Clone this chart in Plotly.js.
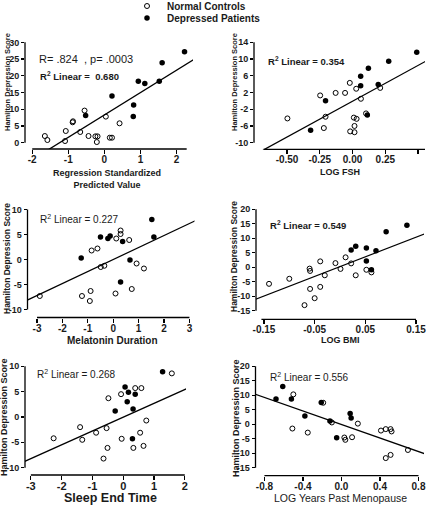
<!DOCTYPE html>
<html><head><meta charset="utf-8">
<script src="https://cdn.plot.ly/plotly-3.0.1.min.js"></script>
<style>html,body{margin:0;padding:0;background:#fff;overflow:hidden}#c{width:427px;height:521px;margin-top:-16px}</style>
</head><body><div id="c"></div>
<script>
// ---------- DATA ----------
// Panel 1: Regression Standardized Predicted Value
const p1NormX = [-1.65,-1.58,-1.07,-1.09,-0.88,-0.87,-0.55,-0.67,-0.44,-0.25,-0.19,-0.21,0.04,0.15,0.21,0.42];
const p1NormY = [2.0,0.8,3.5,0.5,6.1,6.4,9.6,3.2,2.0,1.9,1.9,0.2,7.8,1.5,1.5,5.8];
const p1DepX = [-0.52,0.21,0.81,0.80,0.94,1.12,1.52,1.60,2.22];
const p1DepY = [8.1,14.0,11.3,7.8,18.4,17.7,18.4,23.9,27.2];
const p1FitX = [-1.6,2.5];
const p1FitY = [-2.4,25.0];
// Panel 2: LOG FSH
const p2NormX = [-0.497,-0.247,-0.206,-0.219,-0.129,-0.057,-0.021,0.028,0.064,0.010,0.031,0.015,-0.018,0.015,0.103,0.211];
const p2NormY = [-4.2,1.3,-3.8,-6.5,1.9,1.9,4.3,2.9,0.5,-4.0,-4.3,-6.0,-7.3,-7.5,-3.0,3.1];
const p2DepX = [-0.320,-0.206,0.062,0.062,0.121,0.113,0.196,0.276,0.49];
const p2DepY = [-7.0,0.0,3.6,5.9,7.8,-3.4,3.9,9.5,11.6];
const p2FitX = [-0.76,0.56];
const p2FitY = [-13.1,9.5];
// Panel 3: Melatonin Duration
const p3NormX = [-2.89,-1.23,-0.89,-0.92,-0.85,-0.62,-0.49,-0.35,0.12,0.29,0.29,0.63,0.09,0.73,0.92,1.21];
const p3NormY = [-7.3,-7.3,-6.3,-8.3,1.8,2.2,-1.5,-1.25,4.2,5.8,5.1,3.9,-6.8,-5.9,-0.8,-1.8];
const p3DepX = [-1.26,-0.50,-0.21,-0.12,0.37,0.66,0.29,1.52,1.60];
const p3DepY = [0.3,4.5,4.2,4.7,3.6,-0.1,-4.5,8.0,4.5];
const p3FitX = [-3.45,3.25];
const p3FitY = [-8.3,7.8];
// Panel 4: LOG BMI
const p4NormX = [-0.140,-0.100,-0.060,-0.059,-0.059,-0.070,-0.050,-0.039,-0.039,-0.030,-0.009,0.001,0.011,0.022,0.031,0.052,0.062];
const p4NormY = [-5.75,-4.0,-0.5,-1.3,-7.5,-13.1,-10.7,-6.8,2.0,-2.8,1.4,-0.6,3.4,1.3,-2.8,-0.9,-1.8];
const p4DepX = [0.022,0.031,0.052,0.052,0.062,0.071,0.091,0.132];
const p4DepY = [5.9,7.2,6.6,2.1,-0.9,5.7,12.2,14.5];
const p4FitX = [-0.17,0.17];
const p4FitY = [-11.3,11.7];
// Panel 5: Sleep End Time
const p5NormX = [-2.26,-1.40,-1.33,-0.88,-0.54,-0.51,-0.64,-0.48,-0.07,-0.05,0.39,0.59,0.33,0.55,0.66,0.75,1.58];
const p5NormY = [-4.2,-2.0,-4.5,-3.1,-2.2,-6.1,-8.2,3.7,4.5,-4.3,5.7,5.7,-6.1,-3.1,-5.7,-0.7,8.6];
const p5DepX = [-0.26,0.06,0.17,0.13,0.39,0.32,0.30,1.28];
const p5DepY = [1.2,5.9,4.9,3.0,4.5,1.6,-4.3,8.9];
const p5FitX = [-3.25,2.1];
const p5FitY = [-8.9,5.7];
// Panel 6: LOG Years Past Menopause
const p6NormX = [-0.50,-0.51,-0.35,-0.19,-0.10,0.03,0.04,0.11,0.17,0.41,0.46,0.51,0.52,0.46,0.51,0.69];
const p6NormY = [10.3,-1.5,-2.9,7.4,0.6,-4.6,-5.4,-4.5,0.2,-2.2,-1.7,-1.7,-2.5,-11.7,-10.6,-8.9];
const p6DepX = [-0.68,-0.61,-0.52,-0.38,-0.21,-0.12,-0.05,0.09,0.10];
const p6DepY = [8.7,13.0,8.7,2.8,7.5,1.1,-4.7,3.7,2.1];
const p6FitX = [-0.95,0.9];
const p6FitY = [11.0,-10.6];

// Ticks
const t1x=[-2,-1,0,1,2], t1xl=['-2','-1','0','1','2'];
const t1y=[0,5,10,15,20,25,30], t1yl=['0','5','10','15','20','25','30'];
const t2x=[-0.5,-0.25,0,0.25,0.5], t2xl=['-0.50','-0.25','0.00','0.25','0.50'];
const t2y=[-10,-6,-2,2,6,10,14], t2yl=['-10','-6','-2','2','6','10','14'];
const t3x=[-3,-2,-1,0,1,2,3], t3xl=['-3','-2','-1','0','1','2','3'];
const t3y=[-10,-5,0,5,10], t3yl=['-10','-5','0','5','10'];
const t4x=[-0.15,-0.05,0.05,0.15], t4xl=['-0.15','-0.05','0.05','0.15'];
const t4y=[-15,-10,-5,0,5,10,15,20], t4yl=['-15','-10','-5','0','5','10','15','20'];
const t5x=[-3,-2,-1,0,1,2], t5xl=['-3','-2','-1','0','1','2'];
const t5y=[-10,-5,0,5,10], t5yl=['-10','-5','0','5','10'];
const t6x=[-0.8,-0.4,0,0.4,0.8], t6xl=['-0.8','-0.4','0.0','0.4','0.8'];
const t6y=[-15,-10,-5,0,5,10,15,20], t6yl=['-15','-10','-5','0','5','10','15','20'];

const xTitles = ['Regression Standardized<br>Predicted Value','LOG FSH','Melatonin Duration','LOG BMI','Sleep End Time','LOG Years Past Menopause'];
const yTitle = 'Hamilton Depression Score';
const r2Text = ['R<sup>2</sup> Linear =  0.680','R<sup>2</sup> Linear = 0.354','R<sup>2</sup> Linear = 0.227','R<sup>2</sup> Linear = 0.549','R<sup>2</sup> Linear = 0.268','R<sup>2</sup> Linear = 0.556'];
const rpText = 'R= .824  , p= .0003';
const legendNames = ['Normal Controls','Depressed Patients'];

// ---------- LAYOUT ----------
const W=427, OFF=16, H=505+OFF;
const FONT='Liberation Sans, Arial, sans-serif';
const NARROW='Liberation Sans Narrow, Arial Narrow, Liberation Sans, Arial, sans-serif';
const TXT='#1a1a1a';
const px=v=>v/W, py=v=>1-(v+OFF)/H;

const panels = [
 {nx:p1NormX,ny:p1NormY,dx:p1DepX,dy:p1DepY,fx:p1FitX,fy:p1FitY,tx:t1x,txl:t1xl,ty:t1y,tyl:t1yl,
  L:25,R:193,T:38,B:149,xr:[-2.2,2.455],yr:[-1.88,31.3],xa:[-2,2.28],ya:[0,30],
  xt:{x:107,y:178.5,s:9,b:true},yt:{x:7,y:82,s:7.5},r2:{x:38,y:76,s:9.5,b:true}},
 {nx:p2NormX,ny:p2NormY,dx:p2DepX,dy:p2DepY,fx:p2FitX,fy:p2FitY,tx:t2x,txl:t2xl,ty:t2y,tyl:t2yl,
  L:254,R:425,T:38,B:149.3,xr:[-0.752,0.553],yr:[-11.58,15.03],xa:[-0.68,0.553],ya:[-10,14],
  xt:{x:340,y:172.5,s:9,b:true},yt:{x:234,y:82,s:7.5},r2:{x:266,y:61,s:9.5,b:true}},
 {nx:p3NormX,ny:p3NormY,dx:p3DepX,dy:p3DepY,fx:p3FitX,fy:p3FitY,tx:t3x,txl:t3xl,ty:t3y,tyl:t3yl,
  L:27.5,R:194.5,T:206,B:317.5,xr:[-3.374,3.2],yr:[-11.6,10.7],xa:[-3,3],ya:[-10,10],
  xt:{x:112,y:340,s:10,b:true},yt:{x:7,y:259,s:8.5},r2:{x:38,y:219,s:10,b:false}},
 {nx:p4NormX,ny:p4NormY,dx:p4DepX,dy:p4DepY,fx:p4FitX,fy:p4FitY,tx:t4x,txl:t4xl,ty:t4y,tyl:t4yl,
  L:256,R:424,T:206,B:319.3,xr:[-0.1657,0.1657],yr:[-17.98,21.1],xa:[-0.155,0.15],ya:[-15,20],
  xt:{x:340,y:340,s:9,b:true},yt:{x:234,y:257,s:8.5},r2:{x:268,y:225,s:9.5,b:true}},
 {nx:p5NormX,ny:p5NormY,dx:p5DepX,dy:p5DepY,fx:p5FitX,fy:p5FitY,tx:t5x,txl:t5xl,ty:t5y,tyl:t5yl,
  L:25,R:186,T:364,B:475,xr:[-3.19,2.04],yr:[-11.44,10.45],xa:[-3,2],ya:[-10,10],
  xt:{x:110,y:497.5,s:12.5,b:true},yt:{x:4,y:417,s:9},r2:{x:35,y:374,s:10,b:false}},
 {nx:p6NormX,ny:p6NormY,dx:p6DepX,dy:p6DepY,fx:p6FitX,fy:p6FitY,tx:t6x,txl:t6xl,ty:t6y,tyl:t6yl,
  L:255.5,R:424,T:364,B:475.7,xr:[-0.893,0.857],yr:[-17.78,20.78],xa:[-0.8,0.8],ya:[-15,20],
  xt:{x:340,y:498,s:10.5,b:false},yt:{x:236,y:418,s:9},r2:{x:268,y:377,s:10,b:false}}
];

const data=[], shapes=[], annotations=[];
const legFont={family:FONT,size:10,color:TXT,weight:'bold'};
const layout={width:W,height:H,margin:{l:0,r:0,t:0,b:0},paper_bgcolor:'#fff',plot_bgcolor:'rgba(0,0,0,0)',
  font:{family:FONT,color:TXT},annotations,shapes,
  legend:{x:px(127),xanchor:'left',y:py(6),yanchor:'middle',bgcolor:'rgba(0,0,0,0)',font:legFont},
  legend2:{x:px(127),xanchor:'left',y:py(18),yanchor:'middle',bgcolor:'rgba(0,0,0,0)',font:legFont}
};

panels.forEach((p,i)=>{
  const n=i+1, xs=n===1?'':String(n);
  const xa='x'+xs, ya='y'+xs;
  layout['xaxis'+xs]={domain:[px(p.L),px(p.R)],range:p.xr,anchor:ya,showgrid:false,zeroline:false,showline:false,
    ticks:'outside',ticklen:4,tickwidth:1.2,tickcolor:'#000',tickmode:'array',tickvals:p.tx,ticktext:p.txl,
    ticklabelstandoff:-3,
    tickfont:{family:FONT,size:i===4?11:10,color:TXT,weight:'bold'},fixedrange:true};
  layout['yaxis'+xs]={domain:[py(p.B),py(p.T)],range:p.yr,anchor:xa,showgrid:false,zeroline:false,showline:false,
    ticks:'outside',ticklen:3,tickwidth:1.2,tickcolor:'#000',tickmode:'array',tickvals:p.ty,ticktext:p.tyl,
    tickfont:{family:FONT,size:9,color:TXT,weight:'bold'},fixedrange:true};
  shapes.push({type:'line',xref:xa,yref:ya+' domain',x0:p.xa[0],x1:p.xa[1],y0:0,y1:0,line:{color:'#000',width:1.3}});
  shapes.push({type:'line',xref:xa+' domain',yref:ya,x0:0,x1:0,y0:p.ya[0],y1:p.ya[1],line:{color:'#000',width:1.3}});
  data.push({type:'scatter',mode:'lines',x:p.fx,y:p.fy,xaxis:xa,yaxis:ya,line:{color:'#000',width:1.3},showlegend:false,hoverinfo:'skip'});
  data.push({type:'scatter',mode:'markers',x:p.nx,y:p.ny,xaxis:xa,yaxis:ya,name:legendNames[0],legend:'legend',
    showlegend:i===0,marker:{symbol:'circle-open',size:5,color:'#000',line:{width:1,color:'#000'}}});
  data.push({type:'scatter',mode:'markers',x:p.dx,y:p.dy,xaxis:xa,yaxis:ya,name:legendNames[1],legend:'legend2',
    showlegend:i===0,marker:{symbol:'circle',size:5.5,color:'#000'}});
  annotations.push({xref:'paper',yref:'paper',x:px(p.xt.x),y:py(p.xt.y),xanchor:'center',yanchor:'middle',showarrow:false,
    text:xTitles[i],font:{family:FONT,size:p.xt.s,color:TXT,weight:p.xt.b?'bold':'normal'}});
  annotations.push({xref:'paper',yref:'paper',x:px(p.yt.x),y:py(p.yt.y),xanchor:'center',yanchor:'middle',showarrow:false,
    textangle:-90,text:yTitle,font:{family:NARROW,size:p.yt.s,color:TXT,weight:'bold'}});
  annotations.push({xref:'paper',yref:'paper',x:px(p.r2.x),y:py(p.r2.y),xanchor:'left',yanchor:'middle',showarrow:false,
    text:r2Text[i],font:{family:FONT,size:p.r2.s,color:TXT,weight:p.r2.b?'bold':'normal'}});
});
annotations.push({xref:'paper',yref:'paper',x:px(37),y:py(59),xanchor:'left',yanchor:'middle',showarrow:false,
  text:rpText,font:{family:FONT,size:11,color:TXT}});

Plotly.newPlot('c',data,layout,{displayModeBar:false,staticPlot:true});
</script></body></html>
